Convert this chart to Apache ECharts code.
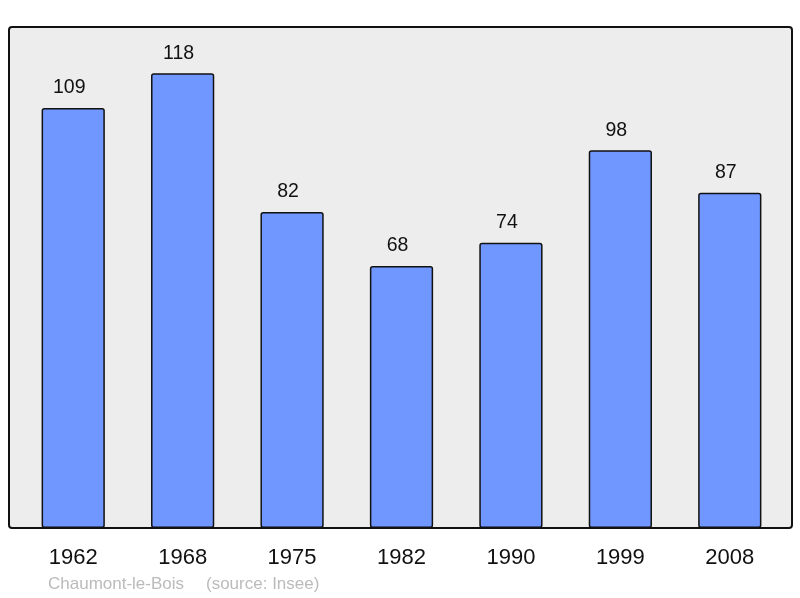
<!DOCTYPE html>
<html><head><meta charset="utf-8">
<script src="https://cdn.jsdelivr.net/npm/echarts@6/dist/echarts.min.js"></script>
<style>html,body{margin:0;padding:0;background:#fff}#c{width:800px;height:598px}</style>
</head><body><div id="c"></div>
<script>
const categories = ['1962','1968','1975','1982','1990','1999','2008'];
const values = [109,118,82,68,74,98,87];
const footerName = 'Chaumont-le-Bois';
const footerSource = '(source: Insee)';
const chart = echarts.init(document.getElementById('c'), null, {renderer:'canvas'});
chart.setOption({
  animation:false,
  backgroundColor:'#ffffff',
  graphic:[
    {type:'rect', z:-10, shape:{x:9,y:27,width:783,height:501,r:3}, style:{fill:'#ededed',stroke:'#111',lineWidth:2}},
    {type:'text', left:48, top:576, style:{text:footerName, fill:'#bbbbbb', font:'17px "Liberation Sans", Arial, sans-serif'}},
    {type:'text', left:206, top:576, style:{text:footerSource, fill:'#bbbbbb', font:'17px "Liberation Sans", Arial, sans-serif'}}
  ],
  grid:{left:18.5, right:15.5, top:27, bottom:70},
  xAxis:{type:'category', data:categories,
    axisLine:{show:false}, axisTick:{show:false},
    axisLabel:{color:'#111', fontSize:22, fontFamily:'Liberation Sans', margin:19}},
  yAxis:{type:'value', min:0, max:130, show:false, splitLine:{show:false}},
  series:[{type:'bar', data:values, barWidth:'57.8%',
    itemStyle:{color:'#7097ff', borderColor:'#111', borderWidth:1.5, borderRadius:2},
    label:{show:true, position:'top', distance:10, offset:[-4,0], color:'#111', fontSize:19.5, fontFamily:'Liberation Sans'}}]
});
</script></body></html>
